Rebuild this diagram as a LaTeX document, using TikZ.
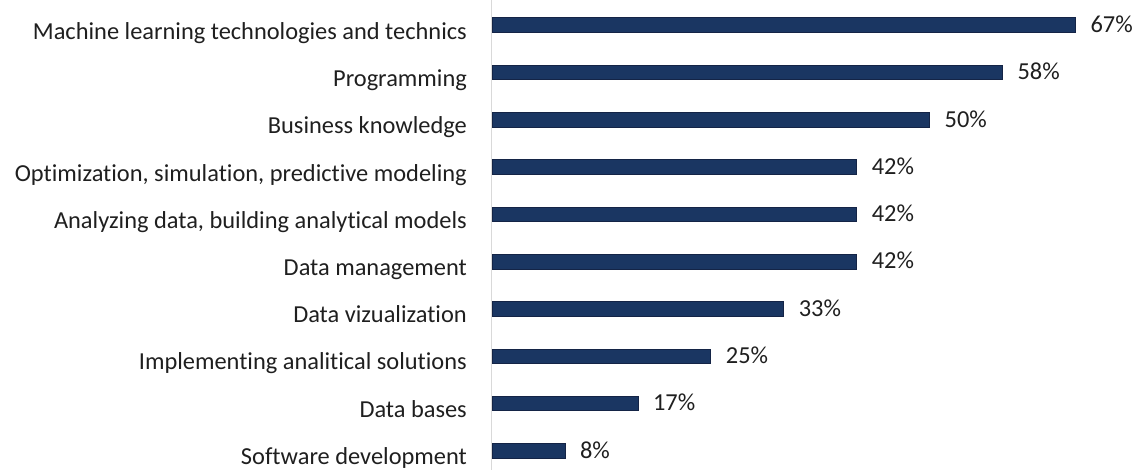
\documentclass[tikz,border=0pt]{standalone}
\usepackage{fontspec}
\setmainfont{Carlito}[Ligatures={NoCommon}]
\definecolor{barc}{RGB}{26,54,98}
\definecolor{bard}{RGB}{20,36,70}
\definecolor{axisc}{RGB}{217,217,217}
\begin{document}
\begin{tikzpicture}[x=1pt,y=-1pt,
  bar/.style={fill=barc,draw=bard,line width=0.6pt},
  lab/.style={anchor=base east,font=\fontsize{24.4}{28}\selectfont,text=black!88,inner sep=0pt},
  val/.style={anchor=base west,font=\fontsize{24.4}{28}\selectfont,text=black!88,inner sep=0pt}]
\useasboundingbox (0,0) rectangle (1142,470);
\draw[axisc,line width=1pt] (491,0) -- (491,470);
\foreach \i/\name/\v/\t in {
 0/Machine learning technologies and technics/66.67/67\%,
 1/Programming/58.33/58\%,
 2/Business knowledge/50/50\%,
 3/{Optimization, simulation, predictive modeling}/41.67/42\%,
 4/{Analyzing data, building analytical models}/41.67/42\%,
 5/Data management/41.67/42\%,
 6/Data vizualization/33.33/33\%,
 7/Implementing analitical solutions/25/25\%,
 8/Data bases/16.67/17\%,
 9/Software development/8.33/8\%}{
  \pgfmathsetmacro{\yc}{25+47.3*\i}
  \pgfmathsetmacro{\yl}{39.5+47.2*\i}
  \pgfmathsetmacro{\xe}{492+8.75*\v}
  \node[lab] (l\i) at (467,\yl) {\name};
  \draw[bar] (492,\yc-7.3) rectangle (\xe,\yc+7.3);
  \node[val] (v\i) at (\xe+15,\yc+7.5) {\t};
}
\end{tikzpicture}
\end{document}
